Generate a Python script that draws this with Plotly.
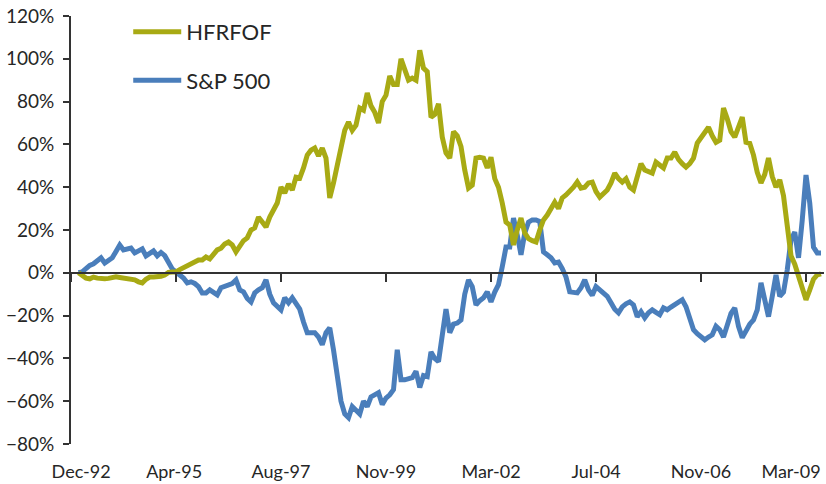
import plotly.graph_objects as go

# Month offsets from Dec-92 (0 = Dec-92); data runs Feb-93 .. Aug-09
months = list(range(2, 201))

hfrfof = [
    0, -1, -2.5, -2.8, -2, -2.5, -2.8, -2.8, -2.6, -2.2,
    -1.9, -2.2, -2.5, -2.8, -3.3, -3.3, -4.2, -4.7, -3, -2,
    -2, -2, -1.6, -1, 0.2, 0.4, 0.4, 1.5, 2.5, 3.5,
    4.5, 5, 6, 6, 7.4, 6.5, 9, 10.7, 11.5, 13.5,
    14.4, 13, 9.8, 12.5, 15, 16.3, 20, 21, 26, 23.7,
    21.4, 26, 29.3, 32.6, 40, 37.3, 41.5, 38.7, 44.7, 44.3,
    49, 55, 57.3, 58.3, 54.6, 58.3, 53.6, 35, 42, 50,
    56, 66.6, 70.4, 66.6, 69, 77, 76, 84, 78, 75,
    70, 80, 83, 92, 88, 88, 100, 95, 90, 91,
    90, 104, 95.6, 94, 72.7, 74, 79, 63.4, 56, 53.6,
    66, 64, 59, 48, 39.6, 41, 53.6, 54, 53.6, 49,
    54, 44, 40, 32.6, 23.7, 22.3, 13, 20, 25.6, 18.6,
    16, 15, 14.4, 20, 24.7, 27, 30, 33, 30, 35,
    36.4, 38, 40, 42.4, 39.6, 40, 42, 42.4, 38, 35.4,
    37, 38.7, 42, 46.6, 44, 42.4, 44, 40, 38.7, 45.7,
    51, 48, 47, 46.6, 51.7, 50, 49, 53.6, 53.6, 56.4,
    53, 51, 49.4, 51, 53.6, 60.6, 63, 65, 68, 64,
    61, 62, 77, 72, 66, 63.4, 68, 72.7, 61, 60.5,
    55, 47, 42, 46, 53.6, 45, 40, 43.4, 36, 20,
    8, 4, -2, -7, -12.6, -8, -3, -1, -0.5,
]

sp500 = [
    0, 0.4, 2, 3.5, 4.2, 6, 7, 4.6, 6, 7,
    10, 13, 10.7, 11, 11.6, 9.3, 10, 11.2, 7.9, 9,
    10.2, 7.9, 9.5, 8, 5, 1.8, 0.4, -1, -2.4, -4.7,
    -4.2, -5, -6.5, -9.4, -9.4, -8, -9, -10.3, -7, -6.5,
    -5.6, -5, -3.3, -8, -8.9, -12, -13.6, -9.4, -8, -7,
    -3.3, -10, -14, -15.9, -17.3, -11.7, -14, -11.7, -14, -17,
    -23, -28, -28, -28, -30, -33.6, -28, -25.7, -36, -48.5,
    -60, -66, -67.7, -62.5, -64, -66, -60, -62.5, -58, -57,
    -56, -61.6, -58.5, -57, -54.6, -36, -50, -50, -49.5, -49,
    -46, -53.6, -48, -48.5, -37, -40, -41.5, -30, -17, -28,
    -24, -23.5, -22, -10, -3.3, -6.5, -15, -13, -11.7, -8.9,
    -13.6, -9, -5.5, 2.8, 12, 12, 25.6, 17.7, 8.4, 18.6,
    23.7, 24.7, 24.7, 24, 9.8, 8.4, 7, 4.6, 5, 2,
    -2, -8.9, -8.9, -9.4, -7, -3.3, -8, -10.5, -6.5, -8,
    -9.4, -11, -14, -17, -18.7, -15.9, -14.5, -13.6, -15, -20.5,
    -18.2, -21, -18.7, -17.3, -18.5, -19.6, -16.4, -17.3, -16, -15,
    -13.5, -12.6, -15.9, -20.5, -26.6, -28.5, -30.3, -31.3, -30, -29,
    -25, -26.6, -30, -23.4, -19, -16.4, -25, -30.3, -26.6, -24,
    -22, -17.3, -4.7, -12.6, -20.5, -11, -1, -11, -9, 1.4,
    15.4, 19, 7, 24.7, 45.7, 32.6, 12, 9.3, 9.3,
]

tick_months = [0, 28, 56, 84, 112, 140, 168, 196]
tick_labels = ["Dec-92", "Apr-95", "Aug-97", "Nov-99", "Mar-02", "Jul-04", "Nov-06", "Mar-09"]
label_months = [2.7, 27.5, 56, 84, 112, 140, 168, 192]

OLIVE = "#A8AA14"
BLUE = "#4A7EBB"
AXIS = "#333333"
FONT = "Lato, 'Open Sans', sans-serif"

fig = go.Figure()
fig.add_trace(go.Scatter(x=months, y=sp500, mode="lines", name="S&P 500",
                         line=dict(color=BLUE, width=5), legendgroup="b", legendrank=2))
fig.add_trace(go.Scatter(x=months, y=hfrfof, mode="lines", name="HFRFOF",
                         line=dict(color=OLIVE, width=5), legendgroup="a", legendrank=1))
# invisible helper trace so the label axis is rendered
fig.add_trace(go.Scatter(x=months, y=hfrfof, mode="lines", xaxis="x2", showlegend=False,
                         line=dict(width=0), opacity=0, hoverinfo="skip"))

x_range = [0, 200.8]
fig.update_layout(
    width=826, height=484,
    margin=dict(l=71, r=2, t=16, b=40, autoexpand=False),
    paper_bgcolor="white", plot_bgcolor="white",
    font=dict(family=FONT, color="#262626"),
    showlegend=True,
    legend=dict(x=0.076, y=1.012, xanchor="left", yanchor="top",
                font=dict(size=22, family=FONT, color="#262626"),
                bgcolor="rgba(0,0,0,0)", itemwidth=48, tracegroupgap=17),
    xaxis=dict(range=x_range, anchor="free", position=0.4,
               showgrid=False, zeroline=False, showline=True, linecolor=AXIS, linewidth=1.5,
               ticks="outside", ticklen=8, tickwidth=1.5, tickcolor=AXIS,
               tickvals=tick_months, showticklabels=False),
    xaxis2=dict(range=x_range, overlaying="x", anchor="free", position=0, side="bottom",
                showgrid=False, zeroline=False, showline=False,
                ticks="outside", ticklen=11, tickcolor="rgba(0,0,0,0)",
                tickvals=label_months, ticktext=tick_labels, ticklabeloverflow="allow",
                tickfont=dict(size=18, family=FONT, color="#262626")),
    yaxis=dict(range=[-80, 120], dtick=20, tick0=0, ticksuffix="%",
               showgrid=False, zeroline=False, showline=True, linecolor=AXIS, linewidth=2,
               ticks="outside", ticklen=6, tickwidth=1.5, tickcolor=AXIS,
               ticklabelstandoff=5, ticklabeloverflow="allow",
               tickfont=dict(size=19, family=FONT, color="#262626")),
)

fig.write_html("out.html", config={"displayModeBar": False},
               post_script="document.body.style.margin='0';")
